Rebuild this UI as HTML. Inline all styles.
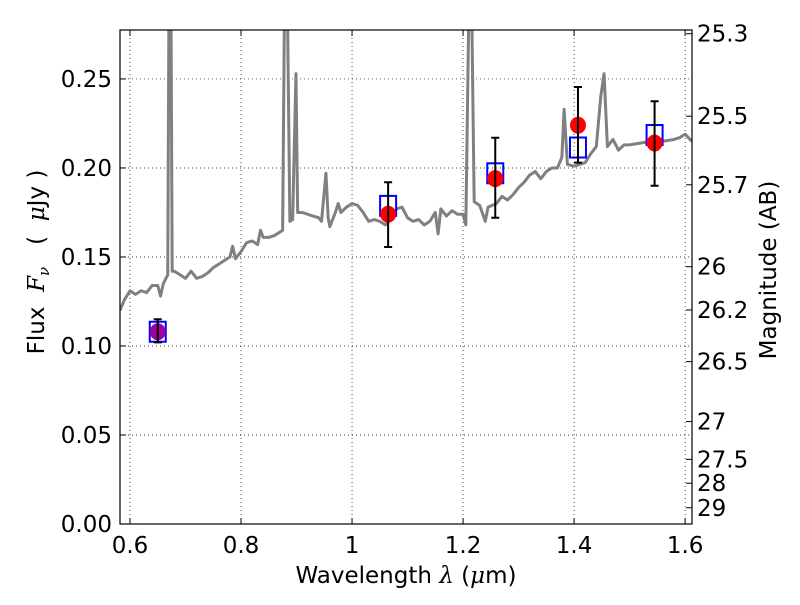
<!DOCTYPE html>
<html><head><meta charset="utf-8"><style>
body{margin:0;background:#fff}
svg text{font-family:"DejaVu Sans","Liberation Sans",sans-serif;fill:#000}
</style></head><body>
<svg id="chart" width="800" height="600" viewBox="0 0 800 600" xmlns="http://www.w3.org/2000/svg">
<rect width="800" height="600" fill="#fff"/>
<g id="grid"></g>
<g id="spec"></g>
<g id="pts"></g>
<g id="axes"></g>
<text x="406" y="583" font-size="23" text-anchor="middle">Wavelength  <tspan font-style="italic" font-family="DejaVu Serif,serif">λ</tspan> (<tspan font-style="italic" font-family="DejaVu Serif,serif">μ</tspan>m)</text>
<text transform="translate(44,262) rotate(-90)" font-size="23" text-anchor="middle" xml:space="preserve">Flux  <tspan font-style="italic" font-family="DejaVu Serif,serif">F</tspan><tspan font-style="italic" font-family="DejaVu Serif,serif" font-size="15" dy="5">ν</tspan><tspan dy="-5">   (  </tspan><tspan font-style="italic" font-family="DejaVu Serif,serif">μ</tspan>Jy )</text>
<text transform="translate(776,270) rotate(-90)" font-size="23" text-anchor="middle">Magnitude (AB)</text>
</svg>
<script>
const xTicks=[0.6,0.8,1.0,1.2,1.4,1.6];
const xTickLabels=["0.6","0.8","1","1.2","1.4","1.6"];
const yTicks=[0,0.05,0.10,0.15,0.20,0.25];
const yTickLabels=["0.00","0.05","0.10","0.15","0.20","0.25"];
const magTicks=[25.3,25.5,25.7,26,26.2,26.5,27,27.5,28,29];
const specLam=[0.582,0.59,0.60,0.61,0.62,0.63,0.64,0.65,0.655,0.66,0.668,0.670,0.674,0.676,0.68,0.69,0.70,0.71,0.72,0.73,0.74,0.75,0.76,0.77,0.78,0.785,0.79,0.80,0.81,0.82,0.83,0.835,0.84,0.85,0.86,0.87,0.875,0.878,0.884,0.888,0.893,0.899,0.902,0.91,0.92,0.93,0.94,0.945,0.953,0.957,0.96,0.97,0.975,0.98,0.99,1.0,1.01,1.02,1.03,1.04,1.05,1.06,1.07,1.08,1.09,1.10,1.11,1.12,1.13,1.14,1.15,1.155,1.16,1.17,1.18,1.19,1.20,1.205,1.21,1.216,1.22,1.23,1.24,1.245,1.26,1.27,1.28,1.29,1.30,1.31,1.32,1.33,1.34,1.35,1.36,1.37,1.378,1.382,1.388,1.40,1.41,1.42,1.43,1.44,1.448,1.454,1.46,1.47,1.48,1.49,1.50,1.52,1.54,1.56,1.58,1.59,1.60,1.612];
const specFlux=[0.120,0.126,0.131,0.129,0.131,0.130,0.134,0.134,0.128,0.135,0.140,0.28,0.28,0.142,0.142,0.140,0.138,0.142,0.138,0.139,0.141,0.144,0.146,0.148,0.150,0.156,0.149,0.153,0.158,0.159,0.157,0.165,0.161,0.161,0.162,0.164,0.165,0.28,0.28,0.170,0.171,0.253,0.175,0.175,0.174,0.173,0.172,0.170,0.197,0.172,0.167,0.175,0.180,0.175,0.178,0.180,0.179,0.175,0.170,0.171,0.170,0.168,0.172,0.177,0.178,0.172,0.170,0.171,0.168,0.170,0.175,0.163,0.177,0.173,0.176,0.174,0.174,0.168,0.28,0.28,0.181,0.179,0.170,0.178,0.180,0.184,0.182,0.185,0.189,0.192,0.196,0.198,0.194,0.198,0.200,0.200,0.206,0.233,0.202,0.201,0.202,0.203,0.208,0.212,0.240,0.253,0.212,0.216,0.210,0.213,0.213,0.214,0.215,0.215,0.216,0.217,0.219,0.215];
const obsLam=[0.65,1.065,1.258,1.407,1.545];
const modelFlux=[0.108,0.1787,0.197,0.2115,0.2185];
const obsFlux=[0.108,0.174,0.194,0.224,0.214];
const errLo=[0.102,0.1556,0.172,0.203,0.190];
const errHi=[0.115,0.192,0.217,0.2455,0.2375];
const obsColor=["#a000a0","red","red","red","red"];

const L=120,R=692,T=30,B=524,xmin=0.582,xmax=1.6124,ymin=0,ymax=0.2775;
const X=v=>L+(v-xmin)/(xmax-xmin)*(R-L);
const Y=v=>B-(v-ymin)/(ymax-ymin)*(B-T);
const NS="http://www.w3.org/2000/svg";
function mk(tag,attrs,parent){const e=document.createElementNS(NS,tag);for(const k in attrs)e.setAttribute(k,attrs[k]);parent.appendChild(e);return e;}
const grid=document.getElementById('grid'),axes=document.getElementById('axes'),spec=document.getElementById('spec'),pts=document.getElementById('pts');
xTicks.forEach((t,i)=>{
 const g=mk('line',{x1:X(t),x2:X(t),y1:T,y2:B,stroke:'#000','stroke-width':0.7,'stroke-dasharray':'1,3'},grid);
 
 
 const tk=mk('line',{x1:X(t),x2:X(t),y1:B,y2:B-6,stroke:'#000'},axes);
 
 
 const tk2=mk('line',{x1:X(t),x2:X(t),y1:T,y2:T+6,stroke:'#000'},axes);
 
 
 const lb=mk('text',{x:X(t),y:553,'font-size':23,'text-anchor':'middle'},axes);lb.textContent=xTickLabels[i];
 
 
});
yTicks.forEach((t,i)=>{
 const g=mk('line',{x1:L,x2:R,y1:Y(t),y2:Y(t),stroke:'#000','stroke-width':0.7,'stroke-dasharray':'1,3'},grid);
 
 
 const tk=mk('line',{x1:L,x2:L+6,y1:Y(t),y2:Y(t),stroke:'#000'},axes);
 
 
 const lb=mk('text',{x:L-8,y:Y(t)+8,'font-size':23,'text-anchor':'end'},axes);lb.textContent=yTickLabels[i];
 
 
});
magTicks.forEach(m=>{
 const f=Math.pow(10,(23.9-m)/2.5);const y=Y(f);
 const tk=mk('line',{x1:R,x2:R-6,y1:y,y2:y,stroke:'#000'},axes);
 
 
 const lb=mk('text',{x:R+5,y:y+8,'font-size':23},axes);lb.textContent=String(m);
 
 
});
const fr=mk('rect',{x:L,y:T,width:R-L,height:B-T,fill:'none',stroke:'#000','stroke-width':1.2},axes);


const cp=mk('clipPath',{id:'clip'},document.getElementById('chart'));mk('rect',{x:L,y:T,width:R-L,height:B-T},cp);
spec.setAttribute('clip-path','url(#clip)');
const sp=mk('polyline',{points:specLam.map((l,i)=>X(l)+','+Y(specFlux[i])).join(' '),fill:'none',stroke:'#808080','stroke-width':3,'stroke-linejoin':'round'},spec);


obsLam.forEach((l,i)=>{
 const x=X(l);
 const sq=mk('rect',{x:x-8,y:Y(modelFlux[i])-10,width:16,height:20,fill:'none',stroke:'#0000ff','stroke-width':2},pts);
 
 
 const c=mk('ellipse',{cx:x,cy:Y(obsFlux[i]),rx:8,ry:8.5,fill:obsColor[i]},pts);
 
 
 const eb=mk('path',{d:`M${x},${Y(errLo[i])}V${Y(errHi[i])}M${x-4},${Y(errLo[i])}H${x+4}M${x-4},${Y(errHi[i])}H${x+4}`,stroke:'#000','stroke-width':2,fill:'none'},pts);
 
 
});
</script>
</body></html>
